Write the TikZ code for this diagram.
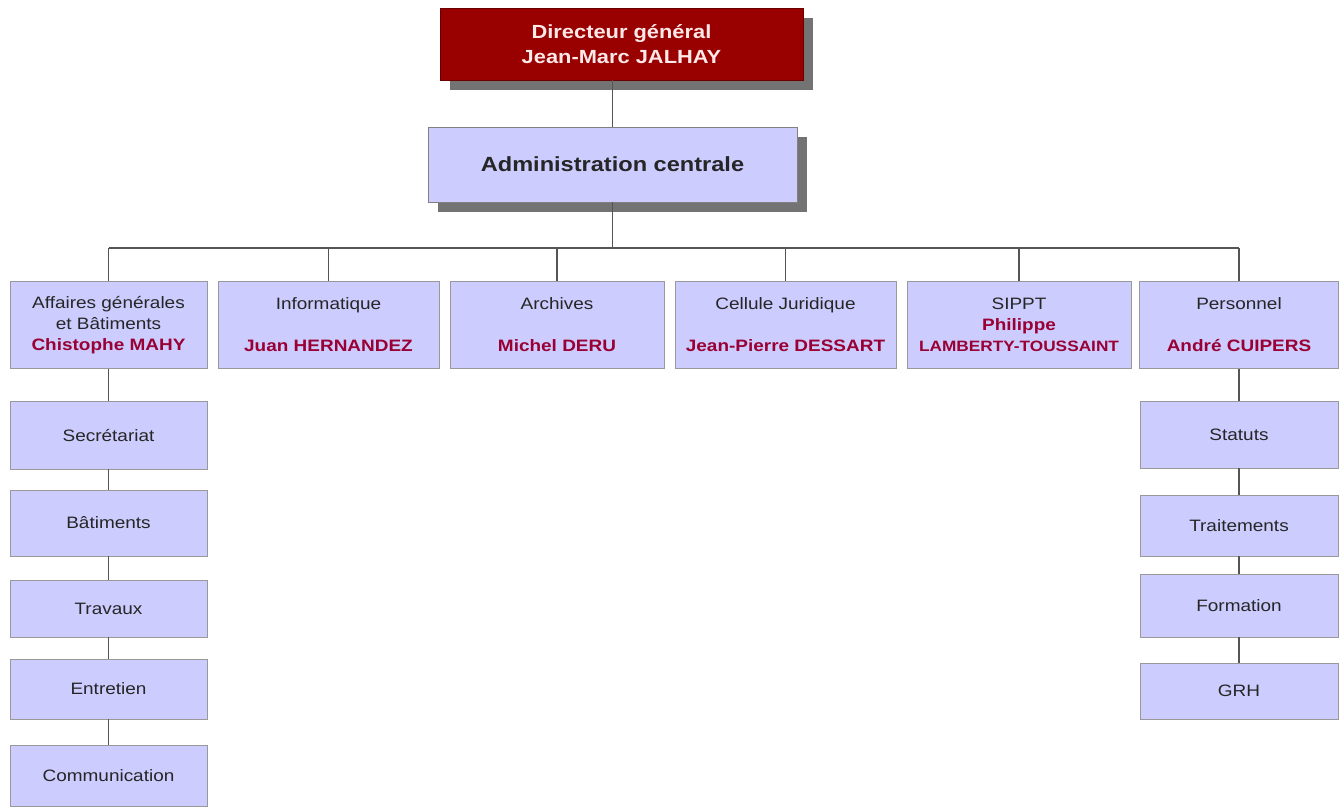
\documentclass[tikz,border=0pt]{standalone}
\usepackage{fontspec}
\setmainfont{Liberation Sans}[FakeStretch=1.15]
\usetikzlibrary{shadows}
\definecolor{lavande}{HTML}{CCCCFF}
\definecolor{bordeaux}{HTML}{990000}
\definecolor{rose}{HTML}{FFE8E8}
\definecolor{nom}{HTML}{990033}
\definecolor{trait}{HTML}{555555}
\newcommand{\nomresp}[1]{\textcolor{nom}{\bfseries #1}}
\tikzset{
  boite/.style={draw=gray!80, fill=lavande, inner sep=0pt, align=center,
    text=black!85, font=\fontsize{16.5}{21}\selectfont},
  ombre/.style={drop shadow={shadow xshift=10pt, shadow yshift=-10pt,
    fill=gray!90!black, opacity=1}},
  lien/.style={trait, line width=1.2pt}
}

\begin{document}
\begin{tikzpicture}[x=1pt,y=-1pt]
  \fill[white] (0,0) rectangle (1344,807);

  \node[boite, ombre, fill=bordeaux, draw=bordeaux!70!black, text=rose,
    minimum width=363pt, minimum height=72pt,
    font=\bfseries\fontsize{19}{25}\selectfont] (dir) at (621.5,44)
    {Directeur général\\Jean-Marc JALHAY};
  \node[boite, ombre, draw=gray, minimum width=369pt, minimum height=75pt,
    font=\bfseries\fontsize{20.5}{25}\selectfont] (adm) at (612.5,164.5)
    {Administration centrale};

  \node[boite, minimum width=197pt, minimum height=87pt] (aff) at (108.5,325)
    {Affaires générales\\et Bâtiments\\\nomresp{Chistophe MAHY}};
  \node[boite, minimum width=221pt, minimum height=87pt] (inf) at (328.5,325)
    {Informatique\\[21pt]\nomresp{Juan HERNANDEZ}};
  \node[boite, minimum width=214pt, minimum height=87pt] (arc) at (557,325)
    {Archives\\[21pt]\nomresp{Michel DERU}};
  \node[boite, minimum width=221pt, minimum height=87pt] (jur) at (785.5,325)
    {Cellule Juridique\\[21pt]\nomresp{Jean-Pierre DESSART}};
  \node[boite, minimum width=224pt, minimum height=87pt] (sip) at (1019,325)
    {SIPPT\\\nomresp{Philippe}\\{\fontsize{15}{21}\selectfont\nomresp{LAMBERTY-TOUSSAINT}}};
  \node[boite, minimum width=199pt, minimum height=87pt] (per) at (1239,325)
    {Personnel\\[21pt]\nomresp{André CUIPERS}};

  \foreach \nom/\y/\h [count=\i] in {Secrétariat/435/68, Bâtiments/523/66,
      Travaux/608.5/57, Entretien/689/60, Communication/775.5/61}{
    \node[boite, minimum width=197pt, minimum height=\h pt] (g\i) at (108.5,\y) {\nom};
  }
  \foreach \nom/\y/\h [count=\i] in {Statuts/434.5/67, Traitements/525.5/61,
      Formation/605.5/63, GRH/691/56}{
    \node[boite, minimum width=198pt, minimum height=\h pt] (d\i) at (1239,\y) {\nom};
  }

  \coordinate (bus) at (612.5,248);
  \draw[lien] (dir.south -| adm.north) -- (adm.north);
  \draw[lien] (adm.south) -- (bus);
  \draw[lien] (bus -| aff.north) -- (bus -| per.north);
  \foreach \n in {aff,inf,arc,jur,sip,per}
    \draw[lien] (bus -| \n.north) -- (\n.north);

  \draw[lien] (aff.south) -- (g1.north);
  \foreach \i [evaluate=\i as \j using int(\i+1)] in {1,...,4}
    \draw[lien] (g\i.south) -- (g\j.north);
  \draw[lien] (per.south) -- (d1.north);
  \foreach \i [evaluate=\i as \j using int(\i+1)] in {1,2,3}
    \draw[lien] (d\i.south) -- (d\j.north);
\end{tikzpicture}
\end{document}
